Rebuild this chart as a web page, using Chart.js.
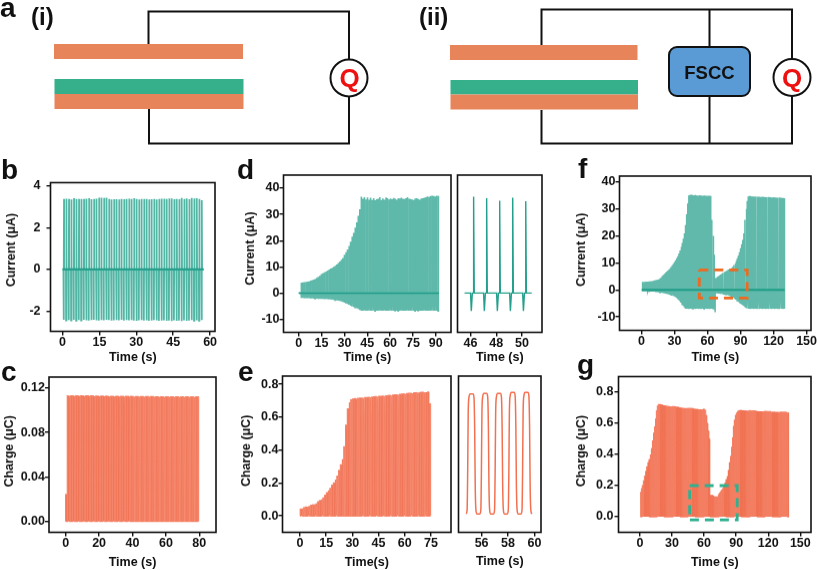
<!DOCTYPE html>
<html><head><meta charset="utf-8">
<script src="https://cdn.jsdelivr.net/npm/chart.js@4"></script>
<style>
html,body{margin:0;padding:0;background:#fff;width:817px;height:570px;overflow:hidden}
canvas{position:absolute;filter:blur(0.35px)}
svg{position:absolute;left:0;top:0;filter:blur(0.3px)}
text{font-family:"Liberation Sans",Arial,sans-serif;font-weight:bold}
</style></head><body>
<svg width="817" height="570">
  <g fill="none" stroke="#111" stroke-width="2">
    <path d="M148.500 44V11.500H349V59M349 97V143.500H149V109"/>
    <path d="M541.500 45V9.500H792V59M709.500 9.500V47M709.500 96V143.500M792 96V143.500H541.500V110"/>
  </g>
  <rect x="54" y="44" width="189" height="15" fill="#E8845A"/>
  <rect x="54.500" y="79" width="189" height="15" fill="#35B08A"/>
  <rect x="54.500" y="94" width="189" height="15" fill="#E8845A"/>
  <rect x="450" y="45" width="187.500" height="15" fill="#E8845A"/>
  <rect x="450.500" y="80" width="187.500" height="14.500" fill="#35B08A"/>
  <rect x="450.500" y="94.500" width="187.500" height="15" fill="#E8845A"/>
  <circle cx="349" cy="78" r="18.500" fill="#fff" stroke="#111" stroke-width="2"/>
  <circle cx="792" cy="77.500" r="18.500" fill="#fff" stroke="#111" stroke-width="2"/>
  <rect x="669" y="47" width="81" height="49" rx="8" fill="#5B9BD5" stroke="#111" stroke-width="2"/>
  <text x="709.500" y="78.500" font-size="18.500" text-anchor="middle" fill="#111">FSCC</text>
  <text x="349.500" y="87" font-size="26" text-anchor="middle" fill="#EE1111">Q</text>
  <text x="792" y="87" font-size="26" text-anchor="middle" fill="#EE1111">Q</text>
  <text x="0" y="17" font-size="28" fill="#111">a</text>
  <text x="31" y="25" font-size="24" fill="#111">(i)</text>
  <text x="419" y="25" font-size="24" fill="#111">(ii)</text>
  <text x="1" y="179" font-size="28" fill="#111">b</text>
  <text x="1" y="381" font-size="28" fill="#111">c</text>
  <text x="237" y="179" font-size="28" fill="#111">d</text>
  <text x="238" y="381" font-size="28" fill="#111">e</text>
  <text x="578" y="178" font-size="28" fill="#111">f</text>
  <text x="577" y="374" font-size="28" fill="#111">g</text>
</svg>
<script>
// ---------- Read-off data: one value per cycle ----------
const bHigh=[3.38,3.40,3.38,3.36,3.42,3.38,3.38,3.39,3.38,3.40,3.42,3.37,3.39,3.40,3.44,3.44,3.43,3.44,3.38,3.36,3.37,3.37,3.36,3.39,3.37,3.39,3.40,3.38,3.42,3.38,3.36,3.39,3.38,3.39,3.36,3.37,3.38,3.36,3.38,3.40,3.40,3.39,3.41,3.41,3.37,3.38,3.37,3.43,3.38,3.41,3.37,3.43,3.41,3.42,3.38,3.33];
const bLow=[-2.43,-2.45,-2.44,-2.45,-2.43,-2.46,-2.44,-2.45,-2.43,-2.45,-2.46,-2.44,-2.43,-2.45,-2.46,-2.44,-2.45,-2.43,-2.44,-2.46,-2.45,-2.44,-2.45,-2.43,-2.46,-2.44,-2.45,-2.44,-2.46,-2.47,-2.45,-2.44,-2.46,-2.45,-2.47,-2.46,-2.44,-2.45,-2.47,-2.46,-2.45,-2.47,-2.46,-2.48,-2.45,-2.47,-2.46,-2.48,-2.45,-2.47,-2.46,-2.44,-2.47,-2.45,-2.46,-2.44];
const cHigh=[0.024,0.113,0.113,0.113,0.113,0.113,0.113,0.113,0.113,0.113,0.113,0.113,0.113,0.113,0.113,0.113,0.113,0.1128,0.1128,0.1128,0.1128,0.1128,0.1128,0.1128,0.1128,0.1126,0.1126,0.1126,0.1126,0.1126,0.1126,0.1126,0.1126,0.1125,0.1125,0.1125,0.1125,0.1125,0.1125,0.1125,0.1124,0.1124,0.1124,0.1124,0.1124,0.1124,0.1124,0.1123,0.1123,0.1123,0.1123,0.1123,0.1123,0.1123,0.1122,0.1122,0.1122,0.1122,0.1122,0.1122,0.1122,0.1121,0.1121,0.1121,0.1121,0.1121,0.1121,0.1121,0.112,0.112,0.112,0.112,0.112,0.112,0.112,0.112,0.112,0.112,0.112,0.112];
const dHigh=[4.0,4.1,4.2,4.3,4.4,4.5,4.7,4.9,5.1,5.4,5.8,6.2,6.6,7.2,7.5,7.9,8.2,8.6,9.0,9.3,9.6,10.0,10.4,10.9,11.5,12.0,12.7,13.4,14.6,15.6,16.6,18.0,19.6,21.5,23.0,25.0,27.0,29.5,32.0,36.8,36.0,36.6,35.7,36.5,35.6,36.4,35.5,36.2,35.4,35.8,36.0,36.6,35.5,36.1,35.6,36.5,36.2,35.7,36.1,35.8,36.3,36.0,35.6,36.2,36.1,36.4,36.0,35.9,36.2,36.6,36.0,35.9,35.7,35.5,36.1,36.2,35.9,35.6,36.1,36.2,36.4,36.6,36.9,36.7,37.0,37.1,37.0,36.9,37.1,37.0];
const dLow=[-1.9,-1.9,-2.0,-2.0,-2.0,-2.0,-2.1,-2.1,-2.1,-2.1,-2.1,-2.2,-2.2,-2.2,-2.2,-2.3,-2.3,-2.3,-2.4,-2.4,-2.5,-2.6,-2.7,-2.8,-2.9,-3.0,-3.2,-3.4,-3.7,-4.0,-4.2,-4.5,-4.8,-5.1,-5.3,-5.5,-5.8,-6.1,-6.5,-6.8,-6.8,-6.7,-6.8,-6.8,-6.7,-6.8,-6.8,-6.7,-6.8,-6.8,-6.8,-6.7,-6.8,-6.8,-6.7,-6.8,-6.8,-6.8,-6.7,-6.8,-6.8,-6.7,-6.8,-6.8,-6.8,-6.7,-6.8,-6.8,-6.8,-6.7,-6.8,-6.8,-6.7,-6.8,-6.8,-6.8,-6.7,-6.8,-6.8,-6.8,-6.7,-6.8,-6.8,-6.8,-6.8,-6.7,-6.8,-6.8,-6.8,-6.8];
const dZoomHigh=[36.8,36.2,35.2,36.4,35.0];
const dZoomLow=[-6.8,-6.8,-6.8,-6.8,-6.8];
const eHigh=[0.040,0.045,0.050,0.053,0.056,0.060,0.063,0.066,0.070,0.076,0.085,0.092,0.100,0.112,0.125,0.140,0.155,0.170,0.185,0.200,0.220,0.245,0.275,0.310,0.345,0.420,0.550,0.650,0.690,0.705,0.710,0.712,0.713,0.714,0.715,0.716,0.717,0.718,0.719,0.720,0.721,0.722,0.723,0.724,0.725,0.726,0.727,0.728,0.729,0.730,0.731,0.732,0.733,0.734,0.735,0.736,0.737,0.738,0.740,0.741,0.742,0.743,0.744,0.745,0.746,0.747,0.748,0.749,0.750,0.750,0.751,0.751,0.752,0.752,0.680];
const eZoomHigh=[0.742,0.745,0.745,0.750,0.750];
const fHigh=[3.0,3.0,3.0,3.1,3.1,3.1,3.2,3.2,3.3,3.3,3.4,3.5,3.6,3.7,3.8,4.0,4.3,4.7,5.2,5.6,6.0,6.4,6.8,7.2,7.6,8.1,8.6,9.1,9.7,10.3,11.0,11.7,12.5,13.5,14.6,15.9,17.4,19.0,21.0,24.0,28.0,32.0,35.0,35.2,35.3,35.2,35.0,35.1,35.2,35.0,35.0,34.9,35.1,35.0,34.9,34.8,35.0,34.9,34.9,34.8,34.9,34.9,34.8,26.0,20.0,13.0,4.4,4.5,4.8,5.1,5.4,5.7,6.0,6.3,6.6,6.8,7.0,7.3,7.5,7.7,7.9,8.1,8.6,9.2,9.9,10.8,11.7,12.8,14.0,15.5,17.0,18.5,21.0,26.0,30.0,33.0,34.7,34.8,34.8,34.7,34.7,34.7,34.6,34.7,34.6,34.6,34.6,34.5,34.5,34.6,34.5,34.5,34.4,34.4,34.5,34.4,34.4,34.3,34.3,34.4,34.3,34.3,34.2,34.2,34.3,34.2,34.2,34.1,34.1,34.0];
const fLow=[-0.5,-0.5,-0.5,-0.5,-0.5,-0.5,-0.6,-0.6,-0.6,-0.6,-0.6,-0.6,-0.8,-0.8,-0.8,-0.9,-1.0,-1.0,-1.1,-1.2,-1.3,-1.4,-1.5,-1.6,-1.7,-1.8,-1.9,-2.0,-2.2,-2.4,-2.7,-3.0,-3.4,-3.8,-4.2,-4.7,-5.3,-6.0,-6.5,-7.0,-7.0,-7.0,-7.1,-7.0,-7.0,-7.1,-7.0,-7.0,-7.1,-7.0,-7.0,-7.1,-7.0,-7.1,-7.0,-7.0,-7.1,-7.0,-7.0,-7.1,-7.0,-7.1,-7.0,-7.0,-7.1,-7.3,-8.0,-1.3,-1.3,-1.4,-1.4,-1.5,-1.5,-1.6,-1.7,-1.8,-1.8,-1.9,-2.0,-2.2,-2.4,-2.6,-2.8,-3.0,-3.2,-3.6,-4.0,-4.4,-4.8,-5.1,-5.4,-5.7,-6.0,-6.3,-6.6,-6.8,-7.0,-7.0,-7.1,-7.0,-7.0,-7.1,-7.0,-7.0,-7.1,-7.0,-7.1,-7.0,-7.0,-7.1,-7.0,-7.0,-7.1,-7.0,-7.0,-7.1,-7.0,-7.1,-7.0,-7.0,-7.1,-7.0,-7.0,-7.1,-7.0,-7.1,-7.0,-7.0,-7.1,-7.0];
const gHigh=[0.16,0.18,0.20,0.23,0.26,0.29,0.32,0.35,0.37,0.40,0.44,0.49,0.54,0.58,0.63,0.68,0.71,0.72,0.72,0.718,0.717,0.716,0.715,0.714,0.713,0.712,0.711,0.710,0.709,0.708,0.707,0.706,0.705,0.704,0.703,0.703,0.702,0.701,0.700,0.700,0.699,0.698,0.698,0.697,0.696,0.696,0.695,0.695,0.694,0.694,0.693,0.693,0.692,0.692,0.691,0.691,0.690,0.690,0.690,0.690,0.685,0.650,0.600,0.550,0.500,0.140,0.140,0.140,0.135,0.130,0.130,0.130,0.130,0.140,0.150,0.160,0.170,0.180,0.200,0.220,0.240,0.260,0.300,0.350,0.390,0.450,0.510,0.580,0.620,0.650,0.665,0.675,0.680,0.685,0.685,0.684,0.684,0.683,0.683,0.682,0.682,0.681,0.681,0.680,0.680,0.680,0.679,0.679,0.679,0.678,0.678,0.678,0.677,0.677,0.677,0.676,0.676,0.676,0.675,0.675,0.675,0.675,0.674,0.674,0.674,0.674,0.673,0.673,0.673,0.673,0.672,0.672,0.672,0.671,0.671,0.671,0.670,0.670,0.670];
const fBoxX=[52.5,96,96,52.5,52.5];
const fBoxY=[7.4,7.4,-3,-3,7.4];
const gBoxX=[46.5,91,91,46.5,46.5];
const gBoxY=[0.2,0.2,-0.02,-0.02,0.2];
const zeroB=[0,57.4], zeroD=[0,92], zeroF=[0.2,130];

// tick values and labels
const bXTicks=[0,15,30,45,60], bYTicks=[-2,0,2,4];
const cXTicks=[0,20,40,60,80], cYTicks=[0,0.04,0.08,0.12], cYLabels=['0.00','0.04','0.08','0.12'];
const dXTicks=[0,15,30,45,60,75,90], dYTicks=[-10,0,10,20,30,40];
const dzXTicks=[46,48,50];
const eXTicks=[0,15,30,45,60,75], eYTicks=[0,0.2,0.4,0.6,0.8], eYLabels=['0.0','0.2','0.4','0.6','0.8'];
const ezXTicks=[56,58,60];
const fXTicks=[0,30,60,90,120,150], fYTicks=[-10,0,10,20,30,40];
const gXTicks=[0,30,60,90,120,150], gYTicks=[0,0.2,0.4,0.6,0.8], gYLabels=['0.0','0.2','0.4','0.6','0.8'];
const dzYTicks=[], ezYTicks=[];

// one cycle of each waveform
const chargeT=[0,0.12,0.5,0.62], chargeV=[0,1,1,0];
const slowT=[0,0.3,0.5,0.8], slowV=[0,1,1,0];
const roundT=[0,0.07,0.11,0.15,0.21,0.29,0.50,0.57,0.62,0.66,0.71,0.78];
const roundV=[0.016,0.05,0.35,0.85,0.975,1,1,0.97,0.72,0.25,0.05,0.016];

const TEAL_B='rgba(22,156,134,0.74)', TEAL_D='rgba(38,160,140,0.74)', TEAL_F='rgba(40,160,140,0.74)',
      TEAL_DARK='#1E9C87', TEAL_SOLID='#23A08B', CORAL='rgba(245,122,92,0.84)', CORAL_WEAVE='rgba(238,96,62,0.3)', CORAL_SOLID='#F2704F';

function spikeTrace(high,low,t0,period,tStart,tEnd){
  const pts=[{x:tStart,y:0}];
  high.forEach((h,i)=>{
    const t=t0+i*period;
    pts.push({x:t-0.24,y:0},{x:t-0.18,y:low[i]},{x:t-0.1,y:0},{x:t-0.04,y:0},{x:t,y:h},{x:t+0.05,y:0});
  });
  pts.push({x:tEnd,y:0});
  return pts;
}
function waveTrace(high,t0,period,T,V){
  const pts=[];
  high.forEach((h,i)=>{
    const t=t0+i*period;
    T.forEach((f,k)=>pts.push({x:t+f*period,y:h*V[k]}));
  });
  return pts;
}
function boxTrace(X,Y){return X.map((x,i)=>({x:x,y:Y[i]}));}
function zeroLine(X){return X.map(x=>({x:x,y:0}));}

const traceDs=(data,color,w)=>({data,borderColor:color,borderWidth:w,pointRadius:0,fill:false,tension:0,borderJoinStyle:'miter',order:2});
const weaveDs=(data,w)=>({data,borderColor:CORAL_WEAVE,borderWidth:w,pointRadius:0,fill:false,tension:0,borderJoinStyle:'miter',order:1});
const zeroDs=(data,w)=>({data,borderColor:TEAL_DARK,borderWidth:w,pointRadius:0,fill:false,tension:0,order:1});
const dashDs=(data,color)=>({data,borderColor:color,borderWidth:2.8,borderDash:[9,6],pointRadius:0,fill:false,tension:0,order:0});

const framePlugin={id:'frame',afterDatasetsDraw(c){
  const a=c.chartArea,x=c.ctx;x.save();x.strokeStyle='#111';x.lineWidth=1.6;
  x.strokeRect(a.left,a.top,a.right-a.left,a.bottom-a.top);x.restore();}};

const F={family:'"Liberation Sans",Arial,sans-serif',weight:'bold',size:12.5};

function panel(o){
  const [L,T,R,B]=o.box, cl=o.titleX-7.5, cb=o.xTitleY+7.5, ct=T-8, cr=R+8;
  const cv=document.createElement('canvas');
  cv.style.left=cl+'px';cv.style.top=ct+'px';cv.style.width=(cr-cl)+'px';cv.style.height=(cb-ct)+'px';
  cv.width=cr-cl;cv.height=cb-ct;
  document.body.appendChild(cv);
  new Chart(cv,{type:'line',data:{datasets:o.datasets},plugins:[framePlugin],options:{
    responsive:false,animation:false,parsing:false,normalized:true,devicePixelRatio:1,
    layout:{padding:{top:8,right:8,left:0,bottom:0}},
    plugins:{legend:{display:false},tooltip:{enabled:false}},
    scales:{
      x:{type:'linear',min:o.x[0],max:o.x[1],
        grid:{drawOnChartArea:false,drawTicks:true,tickLength:4,color:'#111',lineWidth:1.4},
        border:{display:false},
        ticks:{font:F,color:'#111',padding:0,maxRotation:0,autoSkip:false,callback:(v,i)=>o.xTicks[i]},
        title:{display:true,text:o.xTitle,font:F,color:'#111',padding:0},
        afterBuildTicks:s=>{s.ticks=o.xTicks.map(v=>({value:v}));},
        afterFit:s=>{s.height=cb-B;}},
      y:{type:'linear',min:o.y[0],max:o.y[1],
        grid:{drawOnChartArea:false,drawTicks:true,tickLength:o.yTicks.length?4:0,color:'#111',lineWidth:1.4},
        border:{display:false},
        ticks:{display:o.yTicks.length>0,font:F,color:'#111',padding:o.yPad||0,autoSkip:false,
          callback:(v,i)=>(o.yLabels||o.yTicks)[i]},
        title:{display:!!o.yTitle,text:o.yTitle||'',font:F,color:'#111',padding:0},
        afterBuildTicks:s=>{s.ticks=o.yTicks.map(v=>({value:v}));},
        afterFit:s=>{s.width=L-cl;}}
    }}});
}

panel({box:[50,177,215,331],x:[-4.9,62],y:[-2.98,4.17],xTicks:bXTicks,yTicks:bYTicks,yPad:6,
  titleX:11,xTitleY:357,xTitle:'Time (s)',yTitle:'    Current (μA)',
  datasets:[traceDs(spikeTrace(bHigh,bLow,0.6,1.02,0,57.4),TEAL_B,1.8),zeroDs(zeroLine(zeroB),2)]});
panel({box:[49,377,216,532],x:[-10,90],y:[-0.01,0.13],xTicks:cXTicks,yTicks:cYTicks,yLabels:cYLabels,
  titleX:9.5,xTitleY:562,xTitle:'Time (s)',yTitle:'  Charge (μC)',
  datasets:[traceDs(waveTrace(cHigh,-0.1,1.0,chargeT,chargeV),CORAL,1.5),weaveDs(waveTrace(cHigh,-0.1,0.9975,slowT,slowV),0.7)]});
panel({box:[283,175,451,332],x:[-10,100],y:[-15,45],xTicks:dXTicks,yTicks:dYTicks,
  titleX:250,xTitleY:357,xTitle:'Time (s)',yTitle:'   Current (μA)',
  datasets:[traceDs(spikeTrace(dHigh,dLow,1.8,1.01,0,92),TEAL_D,1.6),zeroDs(zeroLine(zeroD),1.5)]});
panel({box:[457,175,542,332],x:[45,51.55],y:[-15,45],xTicks:dzXTicks,yTicks:dzYTicks,
  titleX:449,xTitleY:357,xTitle:'Time (s)',
  datasets:[traceDs(spikeTrace(dZoomHigh,dZoomLow,46.25,1.01,45.55,50.75),TEAL_SOLID,1.4)]});
panel({box:[282,376,451,532],x:[-10,86.5],y:[-0.1,0.85],xTicks:eXTicks,yTicks:eYTicks,yLabels:eYLabels,
  titleX:246,xTitleY:562,xTitle:'Time(s)',yTitle:'  Charge (μC)',
  datasets:[traceDs(waveTrace(eHigh,0.1,1.0,chargeT,chargeV),CORAL,1.5),weaveDs(waveTrace(eHigh,0.1,0.9975,slowT,slowV),0.7)]});
panel({box:[458,376,541,532],x:[54.25,60.5],y:[-0.1,0.85],xTicks:ezXTicks,yTicks:ezYTicks,
  titleX:450,xTitleY:561,xTitle:'Time (s)',
  datasets:[Object.assign(traceDs(waveTrace(eZoomHigh,54.83,1.04,roundT,roundV),CORAL_SOLID,1.5),{cubicInterpolationMode:'monotone'})]});
panel({box:[619,176,811,330],x:[-20,154],y:[-15,42.2],xTicks:fXTicks,yTicks:fYTicks,
  titleX:581,xTitleY:357,xTitle:'Time (s)',yTitle:'  Current (μA)',
  datasets:[traceDs(spikeTrace(fHigh,fLow,1,1.0,0.2,130),TEAL_F,1.4),zeroDs(zeroLine(zeroF),2),dashDs(boxTrace(fBoxX,fBoxY),'#F0691E')]});
panel({box:[618,376,811,532],x:[-20,160],y:[-0.1,0.9],xTicks:gXTicks,yTicks:gYTicks,yLabels:gYLabels,yPad:1,
  titleX:581,xTitleY:562,xTitle:'Time (s)',yTitle:'  Charge (μC)',
  datasets:[traceDs(waveTrace(gHigh,0.5,1.0,chargeT,chargeV),CORAL,1.4),weaveDs(waveTrace(gHigh,0.5,0.9975,slowT,slowV),0.7),dashDs(boxTrace(gBoxX,gBoxY),'#2FB08F')]});
</script>
</body></html>
